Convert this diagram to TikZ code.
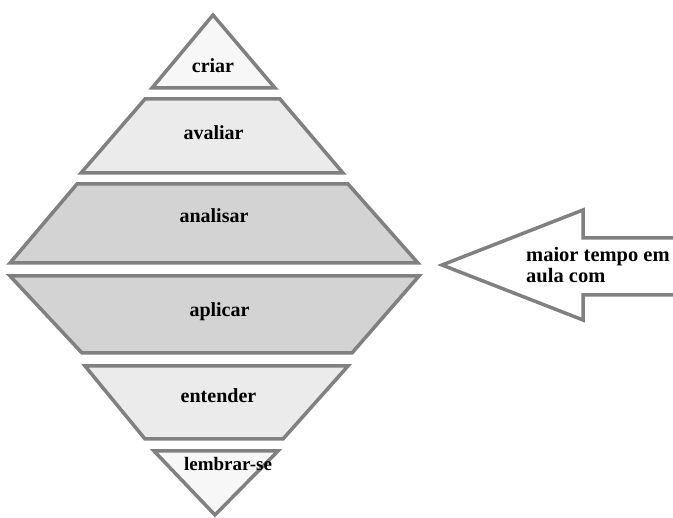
\documentclass[tikz,border=0pt]{standalone}
\usepackage{fontspec}
\setmainfont{Liberation Serif}
\definecolor{edgegray}{HTML}{808080}
\definecolor{palefill}{HTML}{F7F7F7}
\definecolor{lightfill}{HTML}{EBEBEB}
\definecolor{midfill}{HTML}{D3D3D3}
\tikzset{
  layer/.style={draw=edgegray, line width=3.5pt},
  levellabel/.style={anchor=base, inner sep=0pt, font=\fontsize{20}{22}\selectfont\bfseries}
}
\begin{document}
\begin{tikzpicture}[x=1pt,y=-1pt]
    \useasboundingbox (0,0) rectangle (673,518);
    % upper half of the diamond
    \draw[layer, fill=palefill] (213,15) coordinate (criarTop) --
    (275,88) coordinate (criarR) -- (152,88) coordinate (criarL) -- cycle;
    \draw[layer, fill=lightfill] (145,99) coordinate (avaliarTL) -- (280,99) coordinate (avaliarTR)
    -- (343,173) coordinate (avaliarBR) -- (81,173) coordinate (avaliarBL) -- cycle;
    \draw[layer, fill=midfill] (77,184) coordinate (analisarTL) -- (348,184) coordinate (analisarTR)
    -- (418,263) coordinate (analisarBR) -- (10,263) coordinate (analisarBL) -- cycle;
    % lower half
    \draw[layer, fill=midfill] (10,276) coordinate (aplicarTL) -- (419,276) coordinate (aplicarTR)
    -- (352,353) coordinate (aplicarBR) -- (82,353) coordinate (aplicarBL) -- cycle;
    \draw[layer, fill=lightfill] (85,366) coordinate (entenderTL) -- (348,366) coordinate (entenderTR)
    -- (283,439) coordinate (entenderBR) -- (145,439) coordinate (entenderBL) -- cycle;
    \draw[layer, fill=palefill] (154,451) coordinate (lembrarL) --
    (278,451) coordinate (lembrarR) -- (215,515) coordinate (lembrarTip) -- cycle;

    \node[levellabel] (criar) at (213,73) {criar};
    \node[levellabel] (avaliar) at (213.5,140) {avaliar};
    \node[levellabel] (analisar) at (214,223) {analisar};
    \node[levellabel] (aplicar) at (219.5,317) {aplicar};
    \node[levellabel] (entender) at (218.5,403) {entender};
    \node[levellabel, font=\fontsize{19}{21}\selectfont\bfseries] (lembrar) at (228,471) {lembrar-se};

    % the arrow pointing at the middle
    \draw[layer, fill=white, line join=miter] (673,238) coordinate (shaftTop) -- (583,238)
    -- (583,210) coordinate (headTop) -- (442,265) coordinate (tip)
    -- (583,320) coordinate (headBot) -- (583,295) -- (673,295) coordinate (shaftBot);
    \node[anchor=base west, inner sep=0pt, align=left,
      font=\fontsize{20.5}{21}\selectfont\bfseries] (tempo) at (526,283) {maior tempo em\\aula com};
  \end{tikzpicture}
\end{document}
